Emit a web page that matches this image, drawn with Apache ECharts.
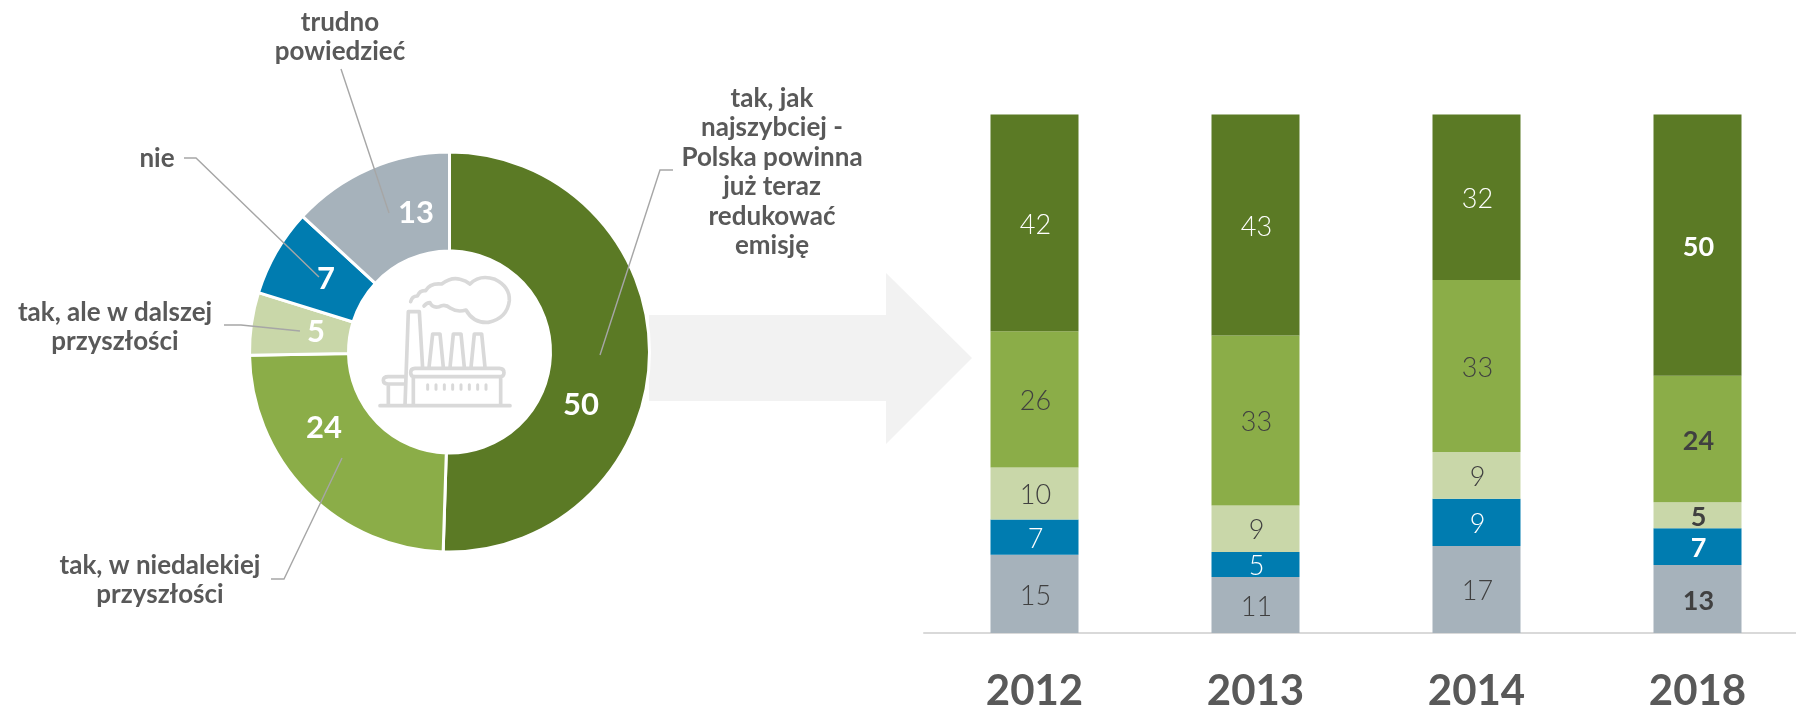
<!DOCTYPE html>
<html><head><meta charset="utf-8">
<style>html,body{margin:0;padding:0;background:#fff}#c{width:1796px;height:707px}</style>
<script src="https://cdn.jsdelivr.net/npm/echarts@6/dist/echarts.min.js"></script>
</head><body><div id="c"></div>
<script>
const FONT = 'Lato';
const TEXT = '#595959', INK = '#404040';
// donut
const donutNames = ['tak, jak\nnajszybciej -\nPolska powinna\njuż teraz\nredukować\nemisję','tak, w niedalekiej\nprzyszłości','tak, ale w dalszej\nprzyszłości','nie','trudno\npowiedzieć'];
const donutValues = [50,24,5,7,13];
const colors = ['#5B7A25','#8BAD48','#C9D7A9','#007CB0','#A6B2BB'];
// annotation placement (label anchors, leader lines)
const valueAnchors = [[581,405],[324,428],[316,332],[326,279],[416,213]];
const nameAnchors = [[772,172],[160,580],[115,327],[157,159],[340,37]];
const leaders = [
  [[673,170],[660,170],[600,355]],
  [[271,579],[284,579],[342,458]],
  [[224,325],[241,325],[300,331]],
  [[184,158],[196,158],[319,277]],
  [[341,69],[389,213]]
];
// stacked bars (share of answers, labels show rounded value)
const years = ['2012','2013','2014','2018'];
const sNajszybciej = [41.8,42.6,31.9,50.4];
const sNiedaleka  = [26.3,32.8,33.2,24.4];
const sDalsza     = [10.0,9.0,9.0,5.0];
const sNie        = [6.8,4.8,9.1,7.1];
const sTrudno     = [15.1,10.8,16.8,13.1];
const barSeries = [
  ['trudno powiedzieć',sTrudno,colors[4],INK],
  ['nie',sNie,colors[3],'#fff'],
  ['tak, ale w dalszej przyszłości',sDalsza,colors[2],INK],
  ['tak, w niedalekiej przyszłości',sNiedaleka,colors[1],INK],
  ['tak, jak najszybciej',sNajszybciej,colors[0],'#fff']
];
const G = echarts.graphic;
G.registerShape('factoryBody',G.extendPath('M0 437H390 M75 437L85 155H118L128 325 M147 322L158 222H180L190 322 M210 322L220 222H243L253 322 M273 322L283 222H305L315 322 M100 350V437 M362 350V437 M25 372V437 M75 372H25Q10 372 10 361Q10 350 25 350H75 M105 325H358Q372 325 372 338Q372 350 358 350H105Q92 350 92 338Q92 325 105 325Z M105 350H320',{}));
G.registerShape('factorySmoke',G.extendPath('M92 125Q96 108 112 108Q120 90 137 92Q150 68 185 72Q215 50 240 58Q258 62 270 72Q300 42 345 58Q390 80 388 122Q382 175 325 187Q280 190 258 150Q232 158 212 145Q195 130 178 140Q158 145 150 128Q140 128 132 138',{}));
G.registerShape('factoryWindows',G.extendPath('M143 374V388 M168 374V388 M193 374V388 M218 374V388 M243 374V388 M268 374V388 M293 374V388 M318 374V388',{}));
const chart = echarts.init(document.getElementById('c'),null,{renderer:'canvas'});
const lineEls = leaders.map(p=>({type:'polyline',z:50,shape:{points:p},style:{stroke:'#A6A6A6',lineWidth:1.4,fill:null},silent:true}));
const I='#D9D9D9';
const icon = {type:'group',x:380,y:260,scaleX:1/3,scaleY:1/3,silent:true,children:[
 {type:'factoryBody',style:{stroke:I,lineWidth:11,fill:null,lineCap:'round',lineJoin:'round'}},
 {type:'factorySmoke',style:{stroke:I,lineWidth:11,fill:null,lineCap:'round',lineJoin:'round'}},
 {type:'factoryWindows',style:{stroke:I,lineWidth:9,fill:null,lineCap:'round'}}
]};
const arrow = {type:'polygon',z:0,silent:true,shape:{points:[[649,315],[886,315],[886,273],[972,358],[886,444],[886,401],[649,401]]},style:{fill:'#F2F2F2'}};
chart.setOption({
  animation:false,
  backgroundColor:'#fff',
  textStyle:{fontFamily:FONT},
  graphic:{elements:[arrow,icon,...lineEls]},
  grid:{left:924,right:-12,top:114.5,bottom:74,containLabel:false,outerBoundsMode:'none'},
  xAxis:{type:'category',data:years,axisTick:{show:false},
    axisLine:{lineStyle:{color:'#D9D9D9',width:2}},
    axisLabel:{color:TEXT,fontFamily:FONT,fontWeight:'bold',fontSize:42,margin:37}},
  yAxis:{type:'value',min:0,max:100,show:false,splitLine:{show:false}},
  series:[
    ...barSeries.map(([name,vals,color,lab])=>({
      type:'bar',name,stack:'a',barWidth:88,itemStyle:{color},
      data:vals.map((v,i)=>({value:v,label:{fontWeight:i===3?'bold':300}})),
      label:{show:true,position:'inside',offset:[1,2],color:lab,fontSize:27,fontFamily:FONT,formatter:p=>Math.round(p.value)}
    })),
    {type:'pie',name:'value',center:[449.5,352],radius:[101,200],startAngle:90,clockwise:true,
     itemStyle:{borderColor:'#fff',borderWidth:3},
     data:donutValues.map((v,i)=>({value:v,name:donutNames[i],itemStyle:{color:colors[i]}})),
     label:{show:true,position:'inside',formatter:'{c}',color:'#fff',fontWeight:'bold',fontSize:31,fontFamily:FONT},
     labelLine:{show:false},
     labelLayout:p=>({x:valueAnchors[p.dataIndex][0],y:valueAnchors[p.dataIndex][1],align:'center',verticalAlign:'middle'}),
     emphasis:{disabled:true}},
    {type:'pie',name:'name',center:[449.5,352],radius:[101,200],startAngle:90,silent:true,
     itemStyle:{color:'rgba(0,0,0,0)'},
     data:donutValues.map((v,i)=>({value:v,name:donutNames[i]})),
     label:{show:true,position:'outside',formatter:'{b}',overflow:'none',bleedMargin:0,color:TEXT,fontWeight:'bold',fontSize:26,lineHeight:29.5,align:'center',fontFamily:FONT},
     labelLine:{show:false},
     labelLayout:p=>({x:nameAnchors[p.dataIndex][0],y:nameAnchors[p.dataIndex][1],align:'center',verticalAlign:'middle',hideOverlap:false}),
     emphasis:{disabled:true}}
  ]
});
</script></body></html>
